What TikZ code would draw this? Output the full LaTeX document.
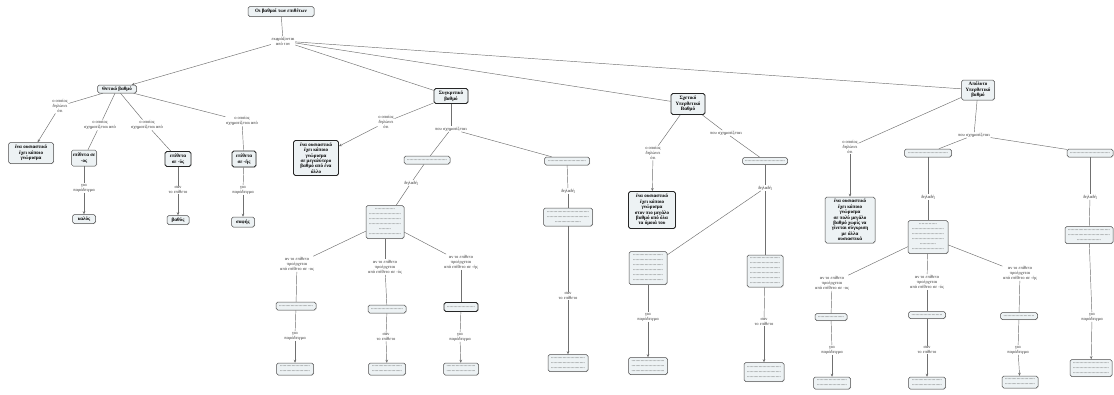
\documentclass[tikz,border=0pt]{standalone}
\usepackage{fontspec}
\setmainfont{Liberation Serif}
\usetikzlibrary{arrows.meta,shadows}
\definecolor{cfill}{HTML}{EDF2F4}
\definecolor{cline}{HTML}{707070}
\newcommand\dl[1]{\hbox to #1pt{\xleaders\hbox to 1.3pt{\hss.\hss}\hfill}}
\tikzset{
  sz/.style 2 args={minimum width=#1pt, minimum height=#2pt},
  concept/.style={draw=black!70, fill=cfill, rounded corners=1.8pt, line width=0.5pt,
    align=center, inner xsep=1.5pt, inner ysep=1.2pt,
    font=\bfseries\fontsize{5}{5.4}\selectfont,
    drop shadow={opacity=0.18, shadow xshift=0.7pt, shadow yshift=-0.7pt}},
  strong/.style={line width=0.9pt, draw=black!85},
  blk/.style={concept, font=\fontsize{5}{5}\selectfont},
  lnk/.style={align=center, inner sep=0.6pt, font=\fontsize{4.5}{5}\selectfont, text=black!80},
  con/.style={draw=cline, line width=0.45pt},
  arr/.style={con, -{Stealth[length=3pt,width=2.6pt]}}
}
\begin{document}
\begin{tikzpicture}[x=1pt,y=-1pt]
\useasboundingbox[fill=white] (0,0) rectangle (1114,394);
% root
\node[concept, sz={66}{10}] (root) at (281,11.5) {Οι βαθμοί των επιθέτων};
\node[lnk] (l0) at (283,41) {εκφράζονται\\από τον};
\node[concept, sz={39}{8}] (thet) at (117,89) {Θετικό βαθμό};
\node[concept, strong, sz={34}{15}] (syg) at (451,96) {Συγκριτικό\\βαθμό};
\node[concept, strong, sz={34}{21}] (sxe) at (688,104) {Σχετικό\\Υπερθετικό\\Βαθμό};
\node[concept, sz={33}{20}] (apo) at (978,90) {Απόλυτο\\Υπερθετικό\\βαθμό};
\draw[con] (root) -- (l0);
\draw[arr] (l0) -- (thet);
\draw[con] (l0) -- (syg);
\draw[con] (l0) -- (sxe);
\draw[con] (l0) -- (apo);
% ---- Thetiko
\node[lnk] (t1) at (60,106) {ο οποίος\\δηλώνει\\ότι};
\node[concept, sz={45}{21}] (t1b) at (31,153) {ένα ουσιαστικό\\έχει κάποιο\\γνώρισμα};
\node[lnk] (t2) at (100,125) {ο οποίος\\σχηματίζεται από};
\node[concept, sz={25}{16}] (t2b) at (84,158) {επίθετα σε\\-ος};
\node[lnk] (t2l) at (84,188) {για\\παράδειγμα};
\node[concept, sz={23}{9}] (t2c) at (84,219) {καλός};
\node[lnk] (t3) at (147,125) {ο οποίος\\σχηματίζεται από};
\node[concept, strong, sz={26}{15}] (t3b) at (178,159) {επίθετα\\σε -ύς};
\node[lnk] (t3l) at (178,190) {σαν\\το επίθετο};
\node[concept, sz={22}{9}] (t3c) at (178,220) {βαθύς};
\node[lnk] (t4) at (242,121) {ο οποίος\\σχηματίζεται από};
\node[concept, strong, sz={24}{16}] (t4b) at (244,159) {επίθετα\\σε -ής};
\node[lnk] (t4l) at (243,190) {για\\παράδειγμα};
\node[concept, sz={23}{10}] (t4c) at (243,222) {σαφής};
\draw[con] (thet) -- (t1); \draw[arr] (t1) -- (t1b);
\draw[con] (thet) -- (t2); \draw[con] (t2) -- (t2b);
\draw[con] (t2b) -- (t2l); \draw[arr] (t2l) -- (t2c);
\draw[con] (thet) -- (t3); \draw[con] (t3) -- (t3b);
\draw[con] (t3b) -- (t3l); \draw[arr] (t3l) -- (t3c);
\draw[con] (thet) -- (t4); \draw[con] (t4) -- (t4b);
\draw[con] (t4b) -- (t4l); \draw[arr] (t4l) -- (t4c);
% ---- Sygkritiko
\node[lnk] (s1) at (386,122) {ο οποίος\\δηλώνει\\ότι};
\node[concept, strong, sz={45}{35}] (s1b) at (316,158) {ένα ουσιαστικό\\έχει κάποιο\\γνώρισμα\\σε μεγαλύτερο\\βαθμό από ένα\\άλλο};
\node[lnk] (s2) at (451,129) {που σχηματίζεται};
\node[blk, sz={46}{8}] (sL) at (427,160) {\dl{40}};
\node[blk, sz={45}{8}] (sR) at (567,161) {\dl{38}};
\node[lnk] (sLl) at (411,183) {δηλαδή};
\node[blk, sz={38}{33}] (sLbig) at (385,222) {\dl{20}\\\dl{32}\\\dl{32}\\\dl{32}\\\dl{12}\\\dl{32}};
\node[lnk] (a1) at (297,264) {αν το επίθετο\\προέρχεται\\από επίθετο σε -ος};
\node[lnk] (a2) at (385,267) {αν το επίθετο\\προέρχεται\\από επίθετο σε -ύς};
\node[lnk] (a3) at (461,262) {αν το επίθετο\\προέρχεται\\από επίθετο σε -ής};
\node[blk, sz={40}{8}] (sa1) at (296,306) {\dl{34}};
\node[blk, sz={38}{8}] (sa2) at (387,309) {\dl{32}};
\node[blk, strong, sz={34}{9}] (sa3) at (461,307) {\dl{28}};
\node[lnk] (al1) at (295,336) {για\\παράδειγμα};
\node[lnk] (al2) at (386,337) {σαν\\το επίθετο};
\node[lnk] (al3) at (460,337) {για\\παράδειγμα};
\node[blk, sz={37}{12}] (ab1) at (295,369) {\dl{30}\\\dl{30}};
\node[blk, sz={37}{12}] (ab2) at (387,369) {\dl{30}\\\dl{30}};
\node[blk, sz={35}{12}] (ab3) at (461,369) {\dl{29}\\\dl{29}};
\node[lnk] (sRl) at (568,191) {δηλαδή};
\node[blk, sz={49}{18}] (sRbig) at (568,217) {\dl{42}\\\dl{42}\\\dl{26}};
\node[lnk] (sRl2) at (568,296) {σαν\\το επίθετο};
\node[blk, sz={40}{17}] (sRbot) at (568,363) {\dl{34}\\\dl{34}\\\dl{34}};
\draw[con] (syg) -- (s1); \draw[arr] (s1) -- (s1b);
\draw[con] (syg) -- (s2); \draw[con] (s2) -- (sL); \draw[con] (s2) -- (sR);
\draw[con] (sL) -- (sLl); \draw[con] (sLl) -- (sLbig);
\draw[con] (sLbig) -- (a1); \draw[con] (a1) -- (sa1);
\draw[con] (sLbig) -- (a2); \draw[con] (a2) -- (sa2);
\draw[con] (sLbig) -- (a3); \draw[con] (a3) -- (sa3);
\draw[con] (sa1) -- (al1); \draw[arr] (al1) -- (ab1);
\draw[con] (sa2) -- (al2); \draw[arr] (al2) -- (ab2);
\draw[con] (sa3) -- (al3); \draw[arr] (al3) -- (ab3);
\draw[con] (sR) -- (sRl); \draw[con] (sRl) -- (sRbig);
\draw[con] (sRbig) -- (sRl2); \draw[arr] (sRl2) -- (sRbot);
% ---- Sxetiko
\node[lnk] (x1) at (653,153) {ο οποίος\\δηλώνει\\ότι};
\node[concept, strong, sz={47}{37}] (x1b) at (652,210) {ένα ουσιαστικό\\έχει κάποιο\\γνώρισμα\\στον πιο μεγάλο\\βαθμό από όλα\\τα όμοιά του};
\node[lnk] (x2) at (726,133) {που σχηματίζεται};
\node[blk, sz={45}{7}] (xb) at (765,161) {\dl{40}};
\node[lnk] (xl) at (765,188) {δηλαδή};
\node[blk, sz={38}{33}] (xLbig) at (648,268) {\dl{30}\\\dl{30}\\\dl{30}\\\dl{30}\\\dl{30}\\\dl{30}};
\node[blk, sz={36}{32}] (xRbig) at (765,271) {\dl{30}\\\dl{30}\\\dl{30}\\\dl{30}\\\dl{30}\\\dl{30}};
\node[lnk] (xLl) at (648,317) {για\\παράδειγμα};
\node[blk, sz={39}{17}] (xLbot) at (648,366) {\dl{33}\\\dl{33}\\\dl{33}};
\node[lnk] (xRl) at (764,322) {σαν\\το επίθετο};
\node[blk, sz={40}{19}] (xRbot) at (764,372) {\dl{34}\\\dl{34}\\\dl{34}};
\draw[con] (sxe) -- (x1); \draw[arr] (x1) -- (x1b);
\draw[con] (sxe) -- (x2); \draw[con] (x2) -- (xb);
\draw[con] (xb) -- (xl); \draw[con] (xl) -- (xRbig); \draw[con] (xl) -- (xLbig);
\draw[con] (xLbig) -- (xLl); \draw[arr] (xLl) -- (xLbot);
\draw[con] (xRbig) -- (xRl); \draw[arr] (xRl) -- (xRbot);
% ---- Apolyto
\node[lnk] (p1) at (850,147) {ο οποίος\\δηλώνει\\ότι};
\node[concept, sz={50}{46}] (p1b) at (850,220) {ένα ουσιαστικό\\έχει κάποιο\\γνώρισμα\\σε πολύ μεγάλο\\βαθμό χωρίς να\\γίνεται σύγκριση\\με άλλα\\ουσιαστικά};
\node[lnk] (p2) at (974,135) {που σχηματίζεται};
\node[blk, sz={47}{8}] (pL) at (928,153) {\dl{40}};
\node[blk, sz={46}{8}] (pR) at (1090,153) {\dl{40}};
\node[lnk] (pLl) at (928,197) {δηλαδή};
\node[blk, sz={40}{33}] (pLbig) at (928,237) {\dl{18}\\\dl{32}\\\dl{32}\\\dl{32}\\\dl{16}\\\dl{32}};
\node[lnk] (b1) at (832,283) {αν το επίθετο\\προέρχεται\\από επίθετο σε -ος};
\node[lnk] (b2) at (927,282) {αν το επίθετο\\προέρχεται\\από επίθετο σε -ύς};
\node[lnk] (b3) at (1020,273) {αν το επίθετο\\προέρχεται\\από επίθετο σε -ής};
\node[blk, sz={32}{7}] (pb1) at (831,317) {\dl{26}};
\node[blk, sz={37}{7}] (pb2) at (927,315) {\dl{31}};
\node[blk, sz={37}{7}] (pb3) at (1019,316) {\dl{31}};
\node[lnk] (bl1) at (832,350) {για\\παράδειγμα};
\node[lnk] (bl2) at (927,350) {σαν\\το επίθετο};
\node[lnk] (bl3) at (1018,350) {για\\παράδειγμα};
\node[blk, sz={37}{12}] (pbb1) at (832,383) {\dl{30}\\\dl{30}};
\node[blk, sz={37}{12}] (pbb2) at (927,383) {\dl{30}\\\dl{30}};
\node[blk, sz={36}{12}] (pbb3) at (1020,382) {\dl{30}\\\dl{30}};
\node[lnk] (pRl) at (1090,197) {δηλαδή};
\node[blk, sz={48}{17}] (pRbig) at (1089,235) {\dl{42}\\\dl{42}\\\dl{24}};
\node[lnk] (pRl2) at (1092,317) {για\\παράδειγμα};
\node[blk, sz={42}{17}] (pRbot) at (1091,368) {\dl{36}\\\dl{36}\\\dl{36}};
\draw[con] (apo) -- (p1); \draw[arr] (p1) -- (p1b);
\draw[con] (apo) -- (p2); \draw[con] (p2) -- (pL); \draw[con] (p2) -- (pR);
\draw[con] (pL) -- (pLl); \draw[con] (pLl) -- (pLbig);
\draw[con] (pLbig) -- (b1); \draw[con] (b1) -- (pb1);
\draw[con] (pLbig) -- (b2); \draw[con] (b2) -- (pb2);
\draw[con] (pLbig) -- (b3); \draw[con] (b3) -- (pb3);
\draw[con] (pb1) -- (bl1); \draw[arr] (bl1) -- (pbb1);
\draw[con] (pb2) -- (bl2); \draw[arr] (bl2) -- (pbb2);
\draw[con] (pb3) -- (bl3); \draw[arr] (bl3) -- (pbb3);
\draw[con] (pR) -- (pRl); \draw[con] (pRl) -- (pRbig);
\draw[con] (pRbig) -- (pRl2); \draw[arr] (pRl2) -- (pRbot);
\end{tikzpicture}
\end{document}
